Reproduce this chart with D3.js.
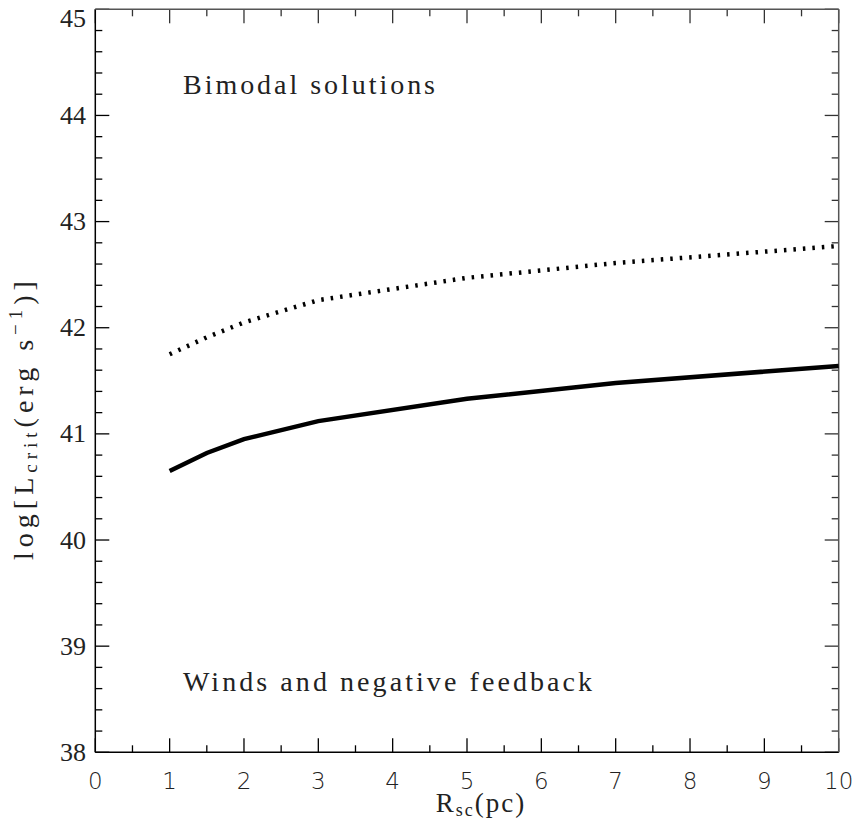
<!DOCTYPE html>
<html><head><meta charset="utf-8">
<script src="https://cdn.jsdelivr.net/npm/d3@7"></script>
<style>body{margin:0;background:#fff}</style>
</head><body>
<svg id="c" width="857" height="830"></svg>
<script>
const radii = [1, 1.5, 2, 3, 5, 7, 10];
const solidVals = [40.65, 40.82, 40.95, 41.12, 41.33, 41.48, 41.64];
const dottedVals = [41.75, 41.91, 42.05, 42.26, 42.47, 42.61, 42.77];
const xTicks = [0,1,2,3,4,5,6,7,8,9,10];
const yTicks = [38,39,40,41,42,43,44,45];
const labelTop = "Bimodal solutions";
const labelBottom = "Winds and negative feedback";

const svg = d3.select("#c");
const L = 95.3, R = 838.7, T = 9.3, B = 752.3;
const x = d3.scaleLinear().domain([0,10]).range([L,R]);
const y = d3.scaleLinear().domain([38,45]).range([B,T]);

const g = svg.append("g");
const minorX = d3.range(0, 10.001, 0.5);
const minorY = d3.range(38, 45.001, 0.2);
function isMajor(v){ return Math.abs(v - Math.round(v)) < 1e-6; }

minorX.forEach(v=>{
  const len = isMajor(v)?14:7;
  g.append("line").attr("x1",x(v)).attr("x2",x(v)).attr("y1",B).attr("y2",B-len).attr("stroke","#000").attr("stroke-width",1.3);
  g.append("line").attr("x1",x(v)).attr("x2",x(v)).attr("y1",T).attr("y2",T+len).attr("stroke","#333").attr("stroke-width",1.3);
});
minorY.forEach(v=>{
  const len = isMajor(v)?14:7;
  g.append("line").attr("y1",y(v)).attr("y2",y(v)).attr("x1",L).attr("x2",L+len).attr("stroke","#000").attr("stroke-width",1.3);
  g.append("line").attr("y1",y(v)).attr("y2",y(v)).attr("x1",R).attr("x2",R-len).attr("stroke","#333").attr("stroke-width",1.3);
});
g.append("line").attr("x1",L).attr("x2",R).attr("y1",B).attr("y2",B).attr("stroke","#000").attr("stroke-width",1.5);
g.append("line").attr("x1",L).attr("x2",L).attr("y1",T).attr("y2",B).attr("stroke","#000").attr("stroke-width",1.5);
g.append("line").attr("x1",L).attr("x2",R).attr("y1",T).attr("y2",T).attr("stroke","#555").attr("stroke-width",1.5);
g.append("line").attr("x1",R).attr("x2",R).attr("y1",T).attr("y2",B).attr("stroke","#555").attr("stroke-width",1.5);

xTicks.forEach(v=>{
  g.append("text").attr("x",x(v)).attr("y",789).attr("text-anchor","middle")
   .attr("font-family","DejaVu Sans").attr("font-weight",200).attr("font-size",23).attr("fill","#222").text(v);
});
yTicks.forEach(v=>{
  g.append("text").attr("x",86).attr("y",Math.max(y(v)+8.5, 27)).attr("text-anchor","end")
   .attr("font-family","Liberation Serif").attr("font-size",26).attr("fill","#222").text(v);
});

const line = d3.line().x((d,i)=>x(radii[i])).y(d=>y(d));
svg.append("path").datum(solidVals).attr("d",line).attr("fill","none").attr("stroke","#000").attr("stroke-width",4.5);
svg.append("path").datum(dottedVals).attr("d",line).attr("fill","none").attr("stroke","#000").attr("stroke-width",4.5).attr("stroke-dasharray","2.5,7");

svg.append("text").attr("x",183).attr("y",94).attr("font-family","Liberation Serif").attr("font-size",28)
  .attr("textLength",252).attr("lengthAdjust","spacing").attr("fill","#222").text(labelTop);
svg.append("text").attr("x",183).attr("y",691).attr("font-family","Liberation Serif").attr("font-size",28)
  .attr("textLength",409).attr("lengthAdjust","spacing").attr("fill","#222").text(labelBottom);

const xl = svg.append("text").attr("x",481).attr("y",812).attr("text-anchor","middle")
  .attr("font-family","Liberation Serif").attr("font-size",27).attr("letter-spacing",2).attr("fill","#222");
xl.append("tspan").text("R");
xl.append("tspan").attr("font-size",18).attr("dy",4).text("sc");
xl.append("tspan").attr("dy",-4).text("(pc)");

const yl = svg.append("text").attr("transform","translate(33,418) rotate(-90)").attr("text-anchor","middle")
  .attr("font-family","Liberation Serif").attr("font-size",28).attr("letter-spacing",5).attr("fill","#222");
yl.append("tspan").text("log[L");
yl.append("tspan").attr("font-size",19).attr("dy",4).text("crit");
yl.append("tspan").attr("dy",-4).text("(erg s");
yl.append("tspan").attr("font-size",19).attr("dy",-11).text("−1");
yl.append("tspan").attr("dy",11).text(")]");
</script>
</body></html>
